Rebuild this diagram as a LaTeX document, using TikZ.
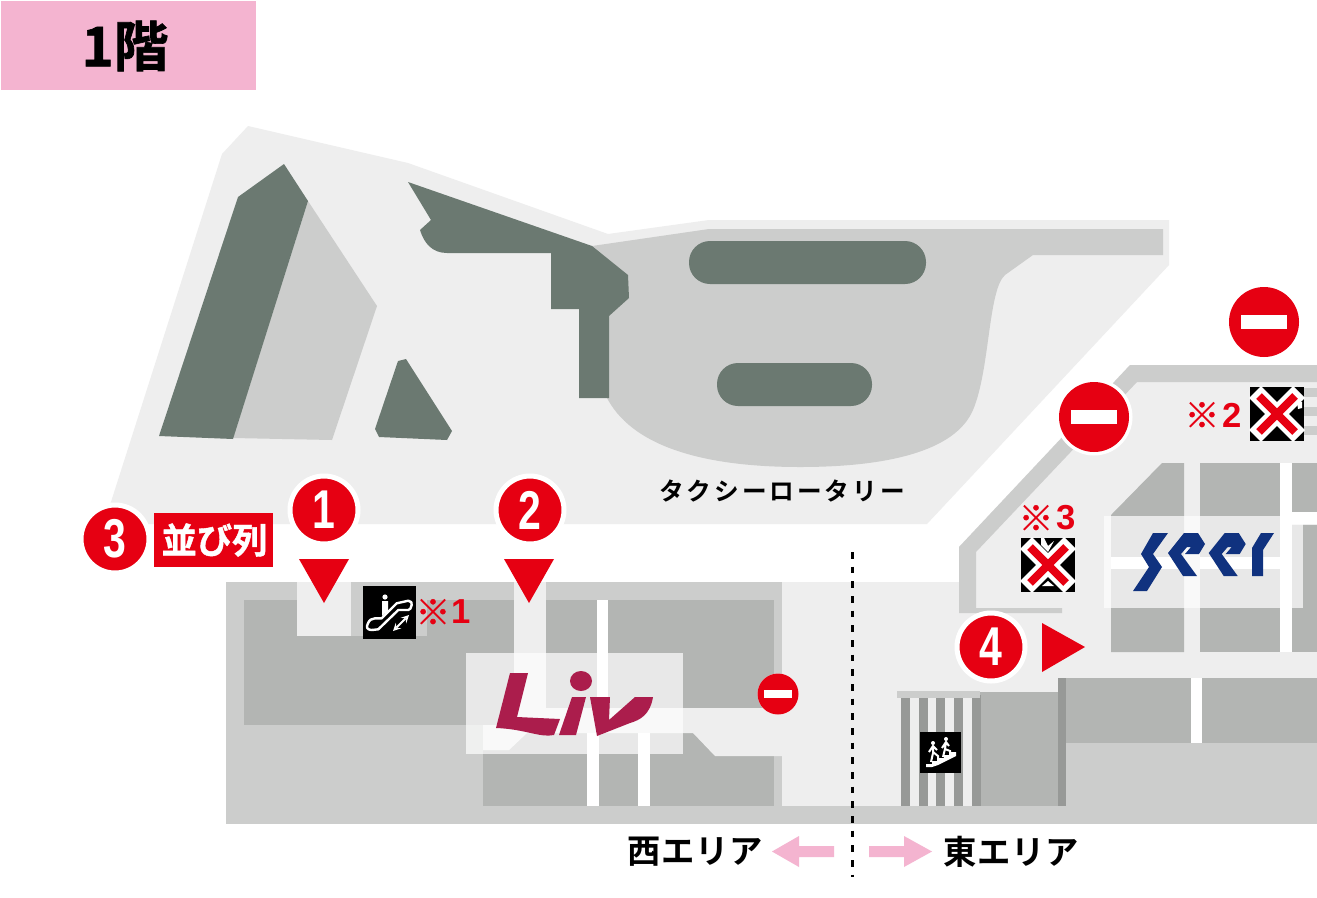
\documentclass[tikz,border=0pt]{standalone}
\usepackage{fontspec}
\setmainfont{Noto Sans CJK JP}[BoldFont={Noto Sans CJK JP Bold}]
\newfontfamily\jpb{Noto Sans CJK JP Bold}
\newfontfamily\jpf{Noto Sans CJK JP Bold}[FakeBold=1.2]
\newfontfamily\jpt{Noto Sans CJK JP Bold}[LetterSpace=12]
\newfontfamily\jpa{Noto Sans CJK JP Bold}[LetterSpace=1.5]
\newfontfamily\num{Liberation Sans Bold}
\definecolor{pl}{HTML}{EEEEEE}
\definecolor{rd}{HTML}{CCCDCC}
\definecolor{sh}{HTML}{B3B5B3}
\definecolor{dk}{HTML}{979997}
\definecolor{gn}{HTML}{6B7971}
\definecolor{rr}{HTML}{E60012}
\definecolor{pk}{HTML}{F4B4D0}
\definecolor{lv}{HTML}{AB1D4C}
\definecolor{sr}{HTML}{10327F}
\tikzset{
  x=0.75pt,y=-0.75pt,
  numcirc/.style={circle,fill=rr,draw=white,line width=3.75pt,minimum size=51pt,inner sep=0pt,text=white,font=\num\fontsize{41}{41}\selectfont},
  plate/.style={fill=white,fill opacity=.7},
  noteS/.style={text=rr,inner sep=0pt,font=\jpf\fontsize{26}{26}\selectfont},
  noteN/.style={text=rr,inner sep=0pt,font=\num\fontsize{26}{26}\selectfont},
  area/.style={inner sep=0pt,font=\jpa\fontsize{25}{25}\selectfont},
}
\newcommand{\nosign}[4]{% cx cy r ring
  \fill[white] (#1,#2) circle ({#3+#4});
  \fill[rr] (#1,#2) circle (#3);
  \fill[white] ({#1-0.66*#3},{#2-0.19*#3}) rectangle ({#1+0.66*#3},{#2+0.19*#3});
}
\newcommand{\crossmark}[2]{% cx cy centre of 54px square
  \draw[white,line width=12.5pt] ({#1-22},{#2-22}) -- ({#1+22},{#2+22}) ({#1+22},{#2-22}) -- ({#1-22},{#2+22});
  \draw[rr,line width=6pt] ({#1-18},{#2-18}) -- ({#1+18},{#2+18}) ({#1+18},{#2-18}) -- ({#1-18},{#2+18});
}
\begin{document}
\begin{tikzpicture}
\useasboundingbox (0,0) rectangle (1317,897);
\fill[white] (0,0) rectangle (1317,897);
% title
\fill[pk] (1,1) rectangle (256,90);
\node[inner sep=0pt,font=\jpf\fontsize{41}{41}\selectfont] (title) at (125,46) {1階};
% plaza
\fill[pl] (248,126) -- (408,163) -- (608,234) -- (709,220) -- (1169,220) -- (1169,265) -- (927,524) -- (105,524) -- (110,505) -- (222,154) -- cycle;
% road
\fill[rd] (592,246) -- (709,229) -- (1163,229) -- (1163,255) -- (1033,255) -- (1005,275) .. controls (988,290) and (990,370) .. (973,410) .. controls (955,452) and (885,467) .. (800,467) .. controls (700,467) and (630,445) .. (606,396) -- cycle;
\fill[rd] (308,201) -- (377,306) -- (332,440) -- (233,438) -- cycle;
% dark green
\fill[gn] (238,197) -- (284,164) -- (308,201) -- (233,439) -- (159,436) -- cycle;
\fill[gn] (398,361) -- (406,359) -- (452,431) -- (447,440) -- (379,437) -- (375,429) -- cycle;
\fill[gn] (408,182) -- (592,246) -- (628,275) -- (629,298) -- (609,316) -- (609,398) -- (579,398) -- (579,309) -- (551,309) -- (551,253) -- (447,253) .. controls (432,253) and (424,243) .. (420,230) -- (431,220) -- cycle;
\fill[gn, rounded corners=15.75pt] (689,241) rectangle (926,284);
\fill[gn, rounded corners=15.75pt] (717,363) rectangle (872,406);
\node[inner sep=0pt,font=\jpt\fontsize{18.5}{18.5}\selectfont] (taxi) at (782,491) {タクシーロータリー};
% west building
\fill[rd] (226,582) rectangle (782,824);
\fill[sh] (244,600) rectangle (774,725);
\fill[sh] (483,725) rectangle (774,806);
% east floor
\fill[pl] (782,582) rectangle (1317,806);
\fill[rd] (782,806) rectangle (1317,824);
\fill[pl] (959,582) -- (959,547) -- (1130,365) -- (1317,365) -- (1317,600) -- cycle;
% east wall strip
\fill[rd] (959,613) -- (959,547) -- (1130,365) -- (1317,365) -- (1317,382) -- (1137,382) -- (976,552) -- (976,608) -- (1062,608) -- (1062,613) -- cycle;
\foreach \gy in {388,407,426}{\fill[rd] (1304,\gy) rectangle (1317,{\gy+8.5});}
% west corridors
\fill[rd] (351,600) rectangle (427,636);
\fill[pl] (297,582) rectangle (351,636);
\fill[pl] (514,582) rectangle (546,708);
\fill[pl] (514,708) -- (782,708) -- (782,756) -- (715,756) -- (693,733) -- (527,733) -- (509,750) -- (483,750) -- (483,725) -- (514,725) -- cycle;
\fill[white] (597,600) rectangle (608,708);
\fill[white] (587,733) rectangle (599,806);
\fill[white] (638,733) rectangle (650,806);
% east shops
\fill[sh] (1111,515) -- (1162,463) -- (1184,463) -- (1184,652) -- (1111,652) -- cycle;
\fill[sh] (1200,463) rectangle (1280,652);
\fill[sh] (1292,463) rectangle (1317,512);
\fill[sh] (1292,525) rectangle (1317,652);
\fill[white] (1111,557) rectangle (1280,569);
\fill[pl] (1184,557) rectangle (1200,569);
\fill[white] (1280,463) rectangle (1292,652);
\fill[white] (1292,512) rectangle (1317,524);
% lower east
\fill[sh] (1058,678) rectangle (1317,743);
\fill[dk] (1058,678) rectangle (1066,806);
\fill[white] (1191,678) rectangle (1202,743);
\fill[rd] (1066,743) rectangle (1317,806);
\fill[sh] (980,692) rectangle (1058,806);
\foreach \sx in {901,918.5,936,954,972}{\fill[dk] (\sx,695) rectangle ({\sx+9},806);}
\fill[rd] (897,691) rectangle (980,698);
% plates
\fill[plate] (466,653) rectangle (683,754);
\fill[plate] (1104,516) rectangle (1303,608);
% Liv
\fill[lv] (510,673) -- (528,673) -- (517,717) -- (560,719) -- (554,735) .. controls (540,738) and (525,729) .. (496,728) -- cycle;
\fill[lv] (572,697) -- (586,697) -- (576,735) -- (559,735) -- cycle;
\fill[lv] (581,681) ellipse (11 and 10);
\fill[lv] (590,697) -- (610,697) -- (609,720) -- (635,697) -- (653,697) .. controls (650,715) and (640,720) .. (630,723) -- (597,736) -- cycle;
% seer
\fill[sr] (1153,533) -- (1168,533) -- (1153,554) -- (1162,567) -- (1147,591) -- (1133,591) -- (1149,567) -- (1141,554) -- cycle;
\foreach \d in {0,40.7}{
\begin{scope}[xshift=\d*0.75pt]
\fill[sr] (1168,553) -- (1184,533) -- (1198,533) -- (1205,544) -- (1199,554) -- (1185,554) -- (1191,547) -- (1187,547) -- (1181,554) -- (1197,576) -- (1183,576) -- cycle;
\end{scope}}
\fill[sr] (1261,533) -- (1274,533) -- (1263,550) -- (1263,576) -- (1252,576) -- (1252,548) -- cycle;
% escalator icon
\fill[black] (363,586) rectangle (416,639);
\draw[white,line width=1.8pt,line join=round] (375,618.3) -- (381.7,618.3) -- (396.7,603.3) -- (408.3,600.7) .. controls (411,601) and (412.5,603) .. (411.7,605) .. controls (411,608) and (410,610) .. (408.3,610) -- (398.3,610) -- (378.3,629.3) -- (371.7,630) .. controls (367,630) and (366,627) .. (367.7,624) .. controls (369,620) and (372,618.3) .. (375,618.3) -- cycle;
\fill[white] (382,601) -- (388,601) -- (388,611) -- (382,616) -- cycle;
\fill[white] (385,597) circle (2.6);
\draw[white,line width=1.5pt,<->,>=stealth] (393,631) -- (409,615);
% stairs icon
\fill[black] (920,732) rectangle (961,773);
\fill[white] (926,767) -- (926,764) -- (932,764) -- (932,761) -- (938,761) -- (938,758) -- (944,758) -- (944,755) -- (950,755) -- (950,752) -- (956,752) -- (956,756) -- (950,759) -- (944,762) -- (938,765) -- (932,767) -- cycle;
\fill[white] (933,743) circle (2);
\fill[white] (946,739) circle (2);
\draw[white,line width=1.5pt] (933,746) -- (933,753) -- (931,762) (933,752) -- (938,756) -- (938,762) (929,752) -- (933,746) -- (937,750);
\draw[white,line width=1.5pt] (946,742) -- (945,749) -- (943,757) (945,749) -- (950,751) -- (950,757) (942,748) -- (946,742) -- (949,746);
% crossed icons
\fill[black] (1250,387) rectangle (1304,441);
\fill[black] (1021,538) rectangle (1075,592);
\crossmark{1277}{414}
\crossmark{1048}{565}
\fill[white] (1297,402) -- (1302,402) -- (1302,408) -- (1298,409) -- cycle;
\fill[white] (1041,538) -- (1044,538) -- (1048,546) -- (1054,541) -- (1048,552) -- (1041,545) -- cycle;
\fill[white] (1042,586) -- (1054,586) -- (1048,581) -- cycle;
% no entry
\nosign{1264}{322}{35}{3.5}
\nosign{1094}{417}{35}{3.5}
\nosign{778}{694}{20.5}{0}
% red triangles
\fill[rr] (299,559) -- (349,559) -- (324,603) -- cycle;
\fill[rr] (504,559) -- (554,559) -- (529,603) -- cycle;
\fill[rr] (1042,623) -- (1042,672) -- (1085,647) -- cycle;
% numbered circles
\node[numcirc] (n1) at (324,510) {\scalebox{.75}[1]{1}};
\node[numcirc] (n2) at (530,510) {\scalebox{.75}[1]{2}};
\node[numcirc] (n3) at (115,539) {\scalebox{.75}[1]{3}};
\node[numcirc] (n4) at (991,647) {\scalebox{.75}[1]{4}};
\fill[rr] (154,513) rectangle (273,567);
\node[inner sep=0pt,text=white,font=\jpf\fontsize{26.5}{26.5}\selectfont] (line) at (214.5,540) {並び列};
% notes
\node[noteS] (s1) at (433,612) {※};
\node[noteN] (m1) at (461,612) {1};
\node[noteS] (s2) at (1202,415) {※};
\node[noteN] (m2) at (1232,415) {2};
\node[noteS] (s3) at (1036,518) {※};
\node[noteN] (m3) at (1066,518) {3};
% divider
\draw[black,line width=2.25pt,dash pattern=on 5pt off 6pt] (852,552) -- (852,877);
% arrows
\fill[pk] (772,851.5) -- (799,836) -- (799,846) -- (834,846) -- (834,857) -- (799,857) -- (799,867) -- cycle;
\fill[pk] (932,851.5) -- (904,836) -- (904,846) -- (869,846) -- (869,857) -- (904,857) -- (904,867) -- cycle;
\node[area] (west) at (695,852) {西エリア};
\node[area] (east) at (1011,852) {東エリア};
\end{tikzpicture}
\end{document}
